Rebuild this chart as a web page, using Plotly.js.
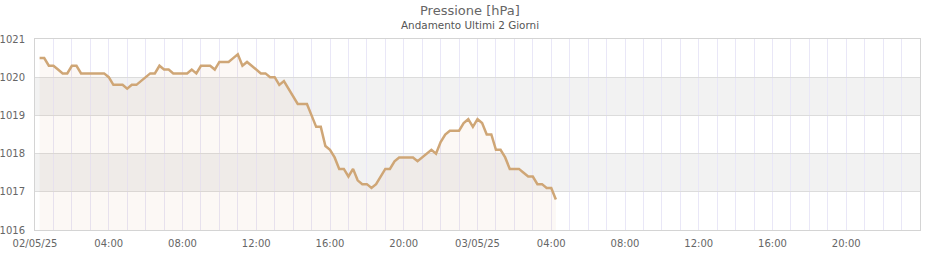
<!DOCTYPE html>
<html>
<head>
<meta charset="utf-8">
<script src="https://cdn.plot.ly/plotly-3.0.1.min.js"></script>
<style>html,body{margin:0;padding:0;background:#fff;}#chart{width:940px;height:260px;}</style>
</head>
<body>
<div id="chart"></div>
<script>
// Timestamps (every 15 minutes) and pressure readings [hPa]
const times = [
"2025-05-02 00:15","2025-05-02 00:30","2025-05-02 00:45","2025-05-02 01:00","2025-05-02 01:15","2025-05-02 01:30","2025-05-02 01:45","2025-05-02 02:00",
"2025-05-02 02:15","2025-05-02 02:30","2025-05-02 02:45","2025-05-02 03:00","2025-05-02 03:15","2025-05-02 03:30","2025-05-02 03:45","2025-05-02 04:00",
"2025-05-02 04:15","2025-05-02 04:30","2025-05-02 04:45","2025-05-02 05:00","2025-05-02 05:15","2025-05-02 05:30","2025-05-02 05:45","2025-05-02 06:00",
"2025-05-02 06:15","2025-05-02 06:30","2025-05-02 06:45","2025-05-02 07:00","2025-05-02 07:15","2025-05-02 07:30","2025-05-02 07:45","2025-05-02 08:00",
"2025-05-02 08:15","2025-05-02 08:30","2025-05-02 08:45","2025-05-02 09:00","2025-05-02 09:15","2025-05-02 09:30","2025-05-02 09:45","2025-05-02 10:00",
"2025-05-02 10:15","2025-05-02 10:30","2025-05-02 10:45","2025-05-02 11:00","2025-05-02 11:15","2025-05-02 11:30","2025-05-02 11:45","2025-05-02 12:00",
"2025-05-02 12:15","2025-05-02 12:30","2025-05-02 12:45","2025-05-02 13:00","2025-05-02 13:15","2025-05-02 13:30","2025-05-02 13:45","2025-05-02 14:00",
"2025-05-02 14:15","2025-05-02 14:30","2025-05-02 14:45","2025-05-02 15:00","2025-05-02 15:15","2025-05-02 15:30","2025-05-02 15:45","2025-05-02 16:00",
"2025-05-02 16:15","2025-05-02 16:30","2025-05-02 16:45","2025-05-02 17:00","2025-05-02 17:15","2025-05-02 17:30","2025-05-02 17:45","2025-05-02 18:00",
"2025-05-02 18:15","2025-05-02 18:30","2025-05-02 18:45","2025-05-02 19:00","2025-05-02 19:15","2025-05-02 19:30","2025-05-02 19:45","2025-05-02 20:00",
"2025-05-02 20:15","2025-05-02 20:30","2025-05-02 20:45","2025-05-02 21:00","2025-05-02 21:15","2025-05-02 21:30","2025-05-02 21:45","2025-05-02 22:00",
"2025-05-02 22:15","2025-05-02 22:30","2025-05-02 22:45","2025-05-02 23:00","2025-05-02 23:15","2025-05-02 23:30","2025-05-02 23:45","2025-05-03 00:00",
"2025-05-03 00:15","2025-05-03 00:30","2025-05-03 00:45","2025-05-03 01:00","2025-05-03 01:15","2025-05-03 01:30","2025-05-03 01:45","2025-05-03 02:00",
"2025-05-03 02:15","2025-05-03 02:30","2025-05-03 02:45","2025-05-03 03:00","2025-05-03 03:15","2025-05-03 03:30","2025-05-03 03:45","2025-05-03 04:00",
"2025-05-03 04:15"
];
const pressure = [
1020.5,1020.5,1020.3,1020.3,1020.2,1020.1,1020.1,1020.3,
1020.3,1020.1,1020.1,1020.1,1020.1,1020.1,1020.1,1020.0,
1019.8,1019.8,1019.8,1019.7,1019.8,1019.8,1019.9,1020.0,
1020.1,1020.1,1020.3,1020.2,1020.2,1020.1,1020.1,1020.1,
1020.1,1020.2,1020.1,1020.3,1020.3,1020.3,1020.2,1020.4,
1020.4,1020.4,1020.5,1020.6,1020.3,1020.4,1020.3,1020.2,
1020.1,1020.1,1020.0,1020.0,1019.8,1019.9,1019.7,1019.5,
1019.3,1019.3,1019.3,1019.0,1018.7,1018.7,1018.2,1018.1,
1017.9,1017.6,1017.6,1017.4,1017.6,1017.3,1017.2,1017.2,
1017.1,1017.2,1017.4,1017.6,1017.6,1017.8,1017.9,1017.9,
1017.9,1017.9,1017.8,1017.9,1018.0,1018.1,1018.0,1018.3,
1018.5,1018.6,1018.6,1018.6,1018.8,1018.9,1018.7,1018.9,
1018.8,1018.5,1018.5,1018.1,1018.1,1017.9,1017.6,1017.6,
1017.6,1017.5,1017.4,1017.4,1017.2,1017.2,1017.1,1017.1,
1016.8
];
const xRange = ["2025-05-02 00:00", "2025-05-04 00:00"];
const yRange = [1016, 1021];
const yTicks = [1016, 1017, 1018, 1019, 1020, 1021];
const xTickVals = ["2025-05-02 00:00","2025-05-02 04:00","2025-05-02 08:00","2025-05-02 12:00","2025-05-02 16:00","2025-05-02 20:00",
                   "2025-05-03 00:00","2025-05-03 04:00","2025-05-03 08:00","2025-05-03 12:00","2025-05-03 16:00","2025-05-03 20:00"];
const xTickText = ["02/05/25","04:00","08:00","12:00","16:00","20:00","03/05/25","04:00","08:00","12:00","16:00","20:00"];
const bands = [[1017, 1018], [1019, 1020]];
const titleText = "Pressione [hPa]";
const subtitleText = "Andamento Ultimi 2 Giorni";

const FONT = "DejaVu Sans, Verdana, sans-serif";

const shapes = bands.map(b => ({
  type: "rect", xref: "paper", yref: "y", x0: 0, x1: 1, y0: b[0], y1: b[1],
  fillcolor: "#f2f2f2", line: {width: 0}, layer: "below"
}));

const trace = {
  x: times, y: pressure, type: "scatter", mode: "lines",
  line: {color: "#cfa676", width: 2.5},
  fill: "tozeroy", fillcolor: "rgba(210,160,120,0.07)",
  hoverinfo: "x+y"
};

const layout = {
  width: 940, height: 260,
  margin: {l: 35, r: 20, t: 39, b: 30, pad: 0},
  paper_bgcolor: "#ffffff", plot_bgcolor: "rgba(0,0,0,0)",
  showlegend: false,
  font: {family: FONT, size: 10, color: "#666"},
  xaxis: {
    type: "date", range: xRange,
    tickvals: xTickVals, ticktext: xTickText,
    showgrid: true, gridcolor: "#e9e7f7", gridwidth: 1,
    minor: {dtick: 3600000, showgrid: true, gridcolor: "#e9e7f7", gridwidth: 1, ticks: ""},
    showline: true, linecolor: "#d4d4d4", linewidth: 1, mirror: true,
    ticks: "outside", ticklen: 4, tickcolor: "rgba(0,0,0,0)",
    tickfont: {family: FONT, size: 10, color: "#666"},
    zeroline: false, fixedrange: true
  },
  yaxis: {
    range: yRange, tickvals: yTicks, ticktext: yTicks.map(String),
    showgrid: true, gridcolor: "#dcdcdc", gridwidth: 1,
    showline: true, linecolor: "#d4d4d4", linewidth: 1, mirror: true,
    ticks: "outside", ticklen: 7, tickcolor: "rgba(0,0,0,0)",
    tickfont: {family: FONT, size: 10, color: "#666"},
    zeroline: false, fixedrange: true
  },
  shapes: shapes,
  annotations: [
    {text: titleText, xref: "paper", yref: "paper", x: 0.5, y: 1,
     xanchor: "center", yanchor: "middle", showarrow: false,
     font: {family: FONT, size: 13, color: "#666"}},
    {text: subtitleText, xref: "paper", yref: "paper", x: 0.5, y: 1,
     xanchor: "center", yanchor: "middle", showarrow: false,
     font: {family: FONT, size: 10.4, color: "#555"}}
  ]
};
// Centre on the page (x=470) and place title centre y≈10, subtitle y≈25
layout.annotations[0].xshift = -7.5;
layout.annotations[1].xshift = -7.5;
layout.annotations[0].yshift = 39 - 10;
layout.annotations[1].yshift = 39 - 25;

Plotly.newPlot("chart", [trace], layout, {displayModeBar: false, staticPlot: true});
</script>
</body>
</html>
